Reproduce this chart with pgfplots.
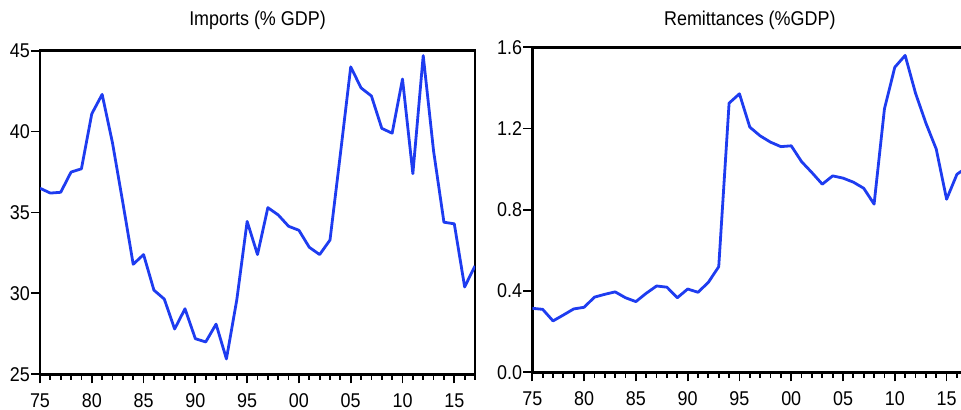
\documentclass[border=0pt]{standalone}
\usepackage{pgfplots}
\pgfplotsset{compat=1.18}
\usepackage{fontspec}
\setmainfont{Liberation Sans}[FakeStretch=0.9]
\definecolor{evblue}{RGB}{30,60,240}
\pgfplotstableread{
year val
1975 36.5
1976 36.2
1977 36.25
1978 37.5
1979 37.7
1980 41.1
1981 42.3
1982 39.3
1983 35.6
1984 31.8
1985 32.4
1986 30.2
1987 29.65
1988 27.8
1989 29.05
1990 27.2
1991 27.0
1992 28.1
1993 25.95
1994 29.6
1995 34.45
1996 32.4
1997 35.3
1998 34.85
1999 34.15
2000 33.9
2001 32.85
2002 32.4
2003 33.3
2004 38.6
2005 44.0
2006 42.7
2007 42.2
2008 40.2
2009 39.9
2010 43.25
2011 37.4
2012 44.7
2013 38.8
2014 34.4
2015 34.3
2016 30.4
2017 31.7
}\imports
\pgfplotstableread{
year val
1975 0.315
1976 0.31
1977 0.253
1978 0.282
1979 0.312
1980 0.32
1981 0.37
1982 0.384
1983 0.396
1984 0.367
1985 0.348
1986 0.389
1987 0.425
1988 0.419
1989 0.367
1990 0.41
1991 0.394
1992 0.443
1993 0.52
1994 1.325
1995 1.371
1996 1.207
1997 1.164
1998 1.133
1999 1.111
2000 1.115
2001 1.037
2002 0.983
2003 0.926
2004 0.967
2005 0.956
2006 0.936
2007 0.906
2008 0.828
2009 1.297
2010 1.502
2011 1.56
2012 1.374
2013 1.227
2014 1.099
2015 0.852
2016 0.975
2017 1.01
}\remit
\pgfplotsset{
  evstyle/.style={
    scale only axis,
    width=435bp,
    xmin=1975, xmax=2017,
    xtick={1975,1980,...,2015},
    xticklabels={75,80,85,90,95,00,05,10,15},
    minor xtick={1975,...,2017},
    xtick pos=bottom, ytick pos=left,
    tick align=outside,
    major tick length=9bp,
    minor tick length=5.5bp,
    every tick/.style={black, line width=1.8bp},
    axis line style={black, line width=2.6bp},
    ticklabel style={font=\fontsize{20}{22}\selectfont},
    yticklabel style={inner sep=1bp},
    xticklabel style={inner sep=1bp, yshift=-9bp},
    title style={font=\fontsize{20}{22}\selectfont, at={(0.5,1)}, anchor=center, yshift=24bp},
  }
}
\begin{document}
\begin{tikzpicture}
\begin{axis}[evstyle,
  at={(40bp,35.7bp)}, anchor=south west,
  height=323.6bp,
  ymin=25, ymax=45,
  ytick={25,30,35,40,45},
  yticklabels={25,30,35,40,45},
  title={Imports (\% GDP)},
]
\addplot[evblue, line width=2.8bp, line join=round] table[x=year,y=val]{\imports};
\end{axis}
\begin{axis}[evstyle,
  at={(532.3bp,37.7bp)}, anchor=south west,
  height=325bp,
  ymin=0, ymax=1.6,
  ytick={0,0.4,0.8,1.2,1.6},
  yticklabels={0.0,0.4,0.8,1.2,1.6},
  title={Remittances (\%GDP)},
  title style={yshift=-3.5bp},
]
\addplot[evblue, line width=2.8bp, line join=round] table[x=year,y=val]{\remit};
\end{axis}
\pgfresetboundingbox
\useasboundingbox (0bp,0bp) rectangle (961bp,410bp);
\end{tikzpicture}
\end{document}
